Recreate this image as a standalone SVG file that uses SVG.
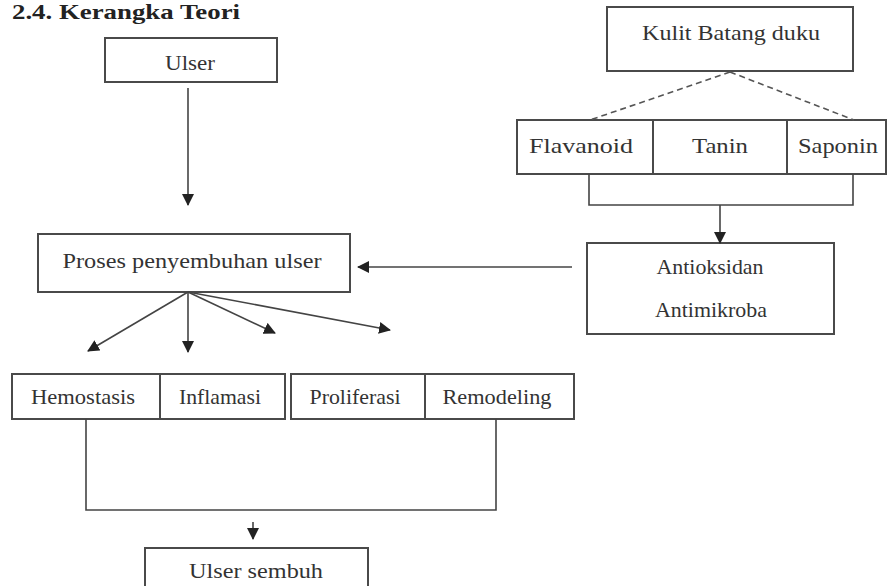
<svg xmlns="http://www.w3.org/2000/svg" width="888" height="586" viewBox="0 0 888 586">
<style>
.box{fill:#fff;stroke:#4a4a4a;stroke-width:2}
.t{font-family:"Liberation Serif","Times New Roman",Times,serif;font-size:22px;fill:#333;text-anchor:middle}
.ln{fill:none;stroke:#444;stroke-width:1.6}
.dash{fill:none;stroke:#555;stroke-width:1.6;stroke-dasharray:6,4}
.title{font-family:"Liberation Serif","Times New Roman",Times,serif;font-size:22px;font-weight:bold;fill:#222}
</style>
<defs>
<marker id="ah" markerWidth="12" markerHeight="12" refX="11" refY="6" orient="auto" markerUnits="userSpaceOnUse">
<path d="M0,0 L12,6 L0,12 Z" fill="#222"/>
</marker>
</defs>
<rect width="888" height="586" fill="#fff"/>
<text class="title" x="12" y="19" textLength="228" lengthAdjust="spacingAndGlyphs">2.4. Kerangka Teori</text>

<g id="ulser"><rect class="box" x="105" y="38" width="172" height="44"/><text class="t" x="190" y="70" textLength="50" lengthAdjust="spacingAndGlyphs">Ulser</text></g>
<g id="proses"><rect class="box" x="38" y="234" width="312" height="58"/><text class="t" x="192" y="268" textLength="259" lengthAdjust="spacingAndGlyphs">Proses penyembuhan ulser</text></g>
<g id="kulit"><rect class="box" x="607" y="7" width="246" height="64"/><text class="t" x="731" y="40" textLength="178" lengthAdjust="spacingAndGlyphs">Kulit Batang duku</text></g>
<g id="flavanoid"><rect class="box" x="517" y="120" width="136" height="54"/><text class="t" x="581" y="153" textLength="104" lengthAdjust="spacingAndGlyphs">Flavanoid</text></g>
<g id="tanin"><rect class="box" x="653" y="120" width="134" height="54"/><text class="t" x="720" y="153" textLength="56" lengthAdjust="spacingAndGlyphs">Tanin</text></g>
<g id="saponin"><rect class="box" x="787" y="120" width="99" height="54"/><text class="t" x="838" y="153" textLength="80" lengthAdjust="spacingAndGlyphs">Saponin</text></g>
<g id="antioksidan"><rect class="box" x="587" y="243" width="247" height="91"/><text class="t" x="710" y="274" textLength="107" lengthAdjust="spacingAndGlyphs">Antioksidan</text><text class="t" x="711" y="317" textLength="112" lengthAdjust="spacingAndGlyphs">Antimikroba</text></g>
<g id="hemostasis"><rect class="box" x="12" y="374" width="148" height="45"/><text class="t" x="83" y="404" textLength="104" lengthAdjust="spacingAndGlyphs">Hemostasis</text></g>
<g id="inflamasi"><rect class="box" x="160" y="374" width="125" height="45"/><text class="t" x="220" y="404" textLength="82" lengthAdjust="spacingAndGlyphs">Inflamasi</text></g>
<g id="proliferasi"><rect class="box" x="291" y="374" width="134" height="45"/><text class="t" x="355" y="404" textLength="91" lengthAdjust="spacingAndGlyphs">Proliferasi</text></g>
<g id="remodeling"><rect class="box" x="425" y="374" width="149" height="45"/><text class="t" x="497" y="404" textLength="109" lengthAdjust="spacingAndGlyphs">Remodeling</text></g>
<g id="sembuh"><rect class="box" x="145" y="548" width="223" height="48"/><text class="t" x="256" y="578" textLength="134" lengthAdjust="spacingAndGlyphs">Ulser sembuh</text></g>

<g id="connectors">
<line class="ln" x1="188" y1="88" x2="188" y2="205" marker-end="url(#ah)"/>
<line class="dash" x1="730" y1="72" x2="590" y2="120"/>
<line class="dash" x1="730" y1="72" x2="854" y2="120"/>
<polyline class="ln" points="589,174 589,205 853,205 853,174"/>
<line class="ln" x1="720" y1="205" x2="720" y2="243" marker-end="url(#ah)"/>
<line class="ln" x1="572" y1="267" x2="358" y2="267" marker-end="url(#ah)"/>
<line class="ln" x1="188" y1="292" x2="88" y2="351" marker-end="url(#ah)"/>
<line class="ln" x1="188" y1="292" x2="188" y2="352" marker-end="url(#ah)"/>
<line class="ln" x1="188" y1="292" x2="275" y2="333" marker-end="url(#ah)"/>
<line class="ln" x1="188" y1="292" x2="390" y2="330" marker-end="url(#ah)"/>
<polyline class="ln" points="86,419 86,510 496,510 496,419"/>
<line class="ln" x1="253" y1="522" x2="253" y2="539" marker-end="url(#ah)"/>
</g>
</svg>
